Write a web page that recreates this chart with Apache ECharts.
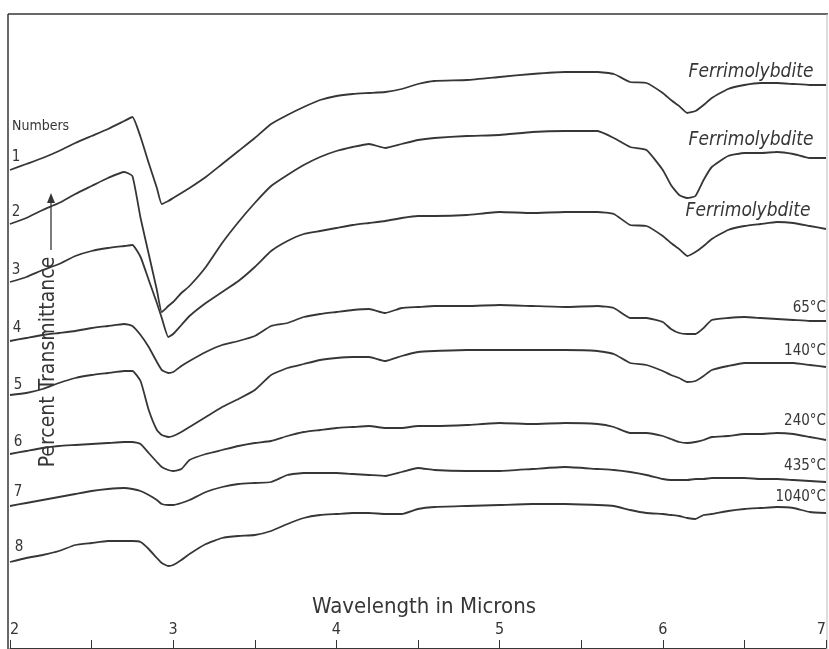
<!DOCTYPE html>
<html>
<head>
<meta charset="utf-8">
<script src="https://cdn.jsdelivr.net/npm/echarts@6/dist/echarts.min.js"></script>
<style>
html,body{margin:0;padding:0;background:#fff;}
#chart{width:829px;height:649px;}
</style>
</head>
<body>
<div id="chart"></div>
<script>
// Wavelength (microns) sample positions shared by all traces
const wavelengths = [2.0,2.1,2.2,2.3,2.4,2.5,2.6,2.7,2.75,2.8,2.85,2.9,2.93,2.97,3.0,3.05,3.1,3.2,3.3,3.4,3.5,3.6,3.7,3.8,3.9,4.0,4.1,4.2,4.3,4.4,4.5,4.6,4.8,5.0,5.2,5.4,5.6,5.7,5.8,5.9,6.0,6.05,6.1,6.15,6.2,6.25,6.3,6.4,6.5,6.6,6.7,6.8,6.9,7.0];

// Relative transmittance (offset traces, arbitrary units)
const curve1 = [478,484,490,497,505,512,519,527,531,511,485,460,444,447,450,455,460,471,484,497,510,524,533,541,548,552,554,555,556,559,564,567,568,571,574,576,576,574,566,565,555,548,542,535,537,543,550,559,563,565,565,564,563,563];
const curve2 = [424,430,438,445,454,462,470,476,472,430,394,358,336,342,346,355,362,381,405,426,445,462,473,483,491,497,501,504,500,504,508,510,512,513,516,517,517,510,501,498,478,463,453,450,452,468,481,492,495,495,496,494,490,490];
const curve3 = [366,371,378,384,392,397,400,402,403,391,368,345,330,311,314,323,332,345,356,367,381,397,407,414,417,420,423,425,427,430,432,432,433,436,435,436,436,434,423,422,412,405,399,392,396,402,409,418,422,424,426,425,422,419];
const curve4 = [307,310,313,315,317,320,322,324,322,313,301,286,278,275,276,282,287,296,303,307,312,322,325,331,334,336,338,339,335,340,341,342,342,343,342,341,342,340,330,330,326,319,315,314,314,320,328,330,331,330,329,328,327,327];
const curve5 = [253,255,259,265,270,273,275,277,277,267,238,218,213,211,212,216,221,231,241,249,258,273,280,284,288,290,291,291,287,292,296,297,298,298,298,298,297,294,285,283,277,273,270,266,267,272,278,282,285,285,285,285,283,281];
const curve6 = [194,197,200,202,203,204,205,206,206,204,195,186,181,178,177,179,188,194,198,202,205,207,212,216,218,220,221,222,220,220,222,222,223,225,224,225,224,221,215,215,212,209,206,205,206,208,211,212,214,214,215,214,211,208];
const curve7 = [142,145,148,151,154,157,159,160,159,157,153,148,144,143,143,145,148,156,161,164,165,166,173,175,175,175,174,173,172,176,180,178,177,177,179,181,179,178,176,173,169,168,168,168,169,169,170,170,170,169,169,168,167,166];
const curve8 = [86,90,93,97,103,105,107,107,107,106,99,90,85,82,83,88,94,104,110,112,113,117,124,130,133,134,135,135,134,134,139,141,142,143,144,144,143,142,138,135,134,133,132,130,129,133,134,137,139,140,141,140,136,135];

const curveNumbers = ['1','2','3','4','5','6','7','8'];
const curveTags = ['Ferrimolybdite','Ferrimolybdite','Ferrimolybdite','65°C','140°C','240°C','435°C','1040°C'];
const xAxisName = 'Wavelength in Microns';
const yAxisName = 'Percent Transmittance';
const numbersHeading = 'Numbers';

const curves = [curve1,curve2,curve3,curve4,curve5,curve6,curve7,curve8];
const INK = '#363636';
const FONT = "'DejaVu Sans Condensed','DejaVu Sans',sans-serif";

const chart = echarts.init(document.getElementById('chart'), null, {renderer:'canvas'});

const series = curves.map((c, k) => ({
  type: 'line',
  name: 'Sample ' + curveNumbers[k],
  data: wavelengths.map((w, i) => [w, c[i]]),
  showSymbol: false,
  smooth: 0.15,
  lineStyle: {color: INK, width: 1.8},
  silent: true,
  animation: false
}));

// label placements (layout only)
const numPos = [[16,157],[16,212],[16,270],[17,328],[18,385],[18,442],[18,492],[19,547]];
const tagPos = [[751,72,'center'],[751,140,'center'],[748,211,'center'],[826,308,'right'],[826,351,'right'],[826,421,'right'],[826,466,'right'],[826,497,'right']];

const graphics = [];
// frame
graphics.push({type:'line', shape:{x1:8,y1:14,x2:8,y2:649}, style:{stroke:INK,lineWidth:1.5}, silent:true});
graphics.push({type:'line', shape:{x1:8,y1:14,x2:828,y2:14}, style:{stroke:INK,lineWidth:1.5}, silent:true});
graphics.push({type:'line', shape:{x1:827,y1:14,x2:827,y2:649}, style:{stroke:'#bbb',lineWidth:1}, silent:true});

curveNumbers.forEach((n, k) => {
  graphics.push({type:'text', x:numPos[k][0], y:numPos[k][1], style:{text:n, fill:INK, font:'15px '+FONT, textAlign:'center', textVerticalAlign:'middle'}, silent:true});
});
graphics.push({type:'text', x:12, y:126, style:{text:numbersHeading, fill:INK, font:'14px '+FONT, textAlign:'left', textVerticalAlign:'middle'}, silent:true});

curveTags.forEach((t, k) => {
  const italic = t === 'Ferrimolybdite';
  graphics.push({type:'text', x:tagPos[k][0], y:tagPos[k][1], style:{text:t, fill:INK, font:(italic?'italic 19px ':'15px ')+FONT, textAlign:tagPos[k][2], textVerticalAlign:'middle'}, silent:true});
});

// x axis name
graphics.push({type:'text', x:424, y:607, style:{text:xAxisName, fill:INK, font:'22px '+FONT, textAlign:'center', textVerticalAlign:'middle'}, silent:true});
// y axis name (rotated) with arrow
graphics.push({type:'text', x:49, y:362, rotation:Math.PI/2, style:{text:yAxisName, fill:INK, font:'21px '+FONT, textAlign:'center', textVerticalAlign:'middle'}, silent:true});
graphics.push({type:'line', shape:{x1:51,y1:250,x2:51,y2:200}, style:{stroke:INK,lineWidth:1.3}, silent:true});
graphics.push({type:'polygon', shape:{points:[[51,193],[47,203],[55,203]]}, style:{fill:INK}, silent:true});

chart.setOption({
  animation: false,
  backgroundColor: '#fff',
  grid: {left:10, top:14, width:822, height:634, containLabel:false},
  xAxis: {
    type: 'value', min: 2, max: 7, interval: 0.5,
    axisLine: {show:true, lineStyle:{color:INK, width:1.2}},
    axisTick: {show:true, inside:true, length:8, lineStyle:{color:INK, width:1}},
    axisLabel: {
      inside:true, margin:10, color:INK, fontSize:16, fontFamily:FONT,
      formatter: v => (Math.abs(v - Math.round(v)) < 1e-6 ? String(Math.round(v)) : ''),
      alignMinLabel:'left', alignMaxLabel:'right'
    },
    splitLine: {show:false}
  },
  yAxis: {
    type: 'value', min: 0, max: 634, show: false,
    splitLine: {show:false}
  },
  series: series,
  graphic: graphics
});
</script>
</body>
</html>
